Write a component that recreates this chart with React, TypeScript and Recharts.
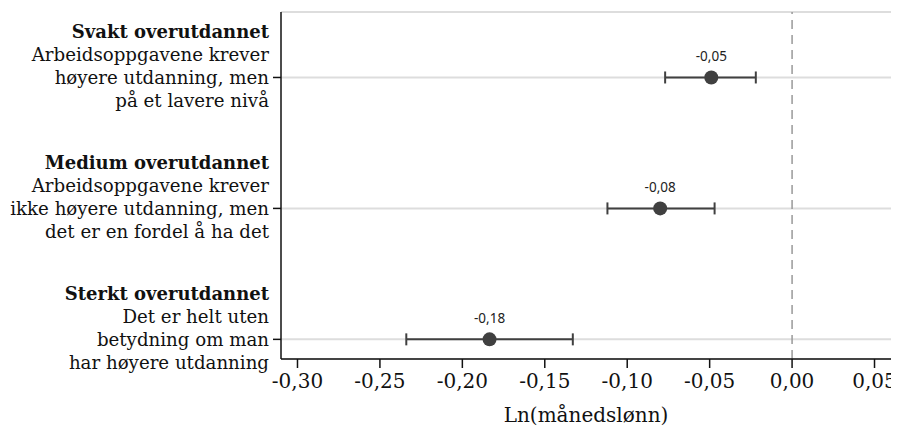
import React from 'react';
import {
  ScatterChart,
  Scatter,
  XAxis,
  YAxis,
  CartesianGrid,
  ErrorBar,
  ReferenceLine,
  Label,
} from 'recharts';

const titles = ['Svakt overutdannet', 'Medium overutdannet', 'Sterkt overutdannet'];
const descriptions = [
  ['Arbeidsoppgavene krever', 'høyere utdanning, men', 'på et lavere nivå'],
  ['Arbeidsoppgavene krever', 'ikke høyere utdanning, men', 'det er en fordel å ha det'],
  ['Det er helt uten', 'betydning om man', 'har høyere utdanning'],
];
const rowPositions = [3, 2, 1];
const estimates = [-0.049, -0.08, -0.1835];
const lowerBounds = [-0.077, -0.112, -0.234];
const upperBounds = [-0.022, -0.047, -0.133];
const xTicks = [-0.3, -0.25, -0.2, -0.15, -0.1, -0.05, 0, 0.05];

const fmt = (v: number) => v.toFixed(2).replace('.', ',');

const data = estimates.map((e, i) => ({
  est: e,
  row: rowPositions[i],
  err: [e - lowerBounds[i], upperBounds[i] - e],
}));

const SERIF = '"DejaVu Serif", serif';

const YTick = (props: any) => {
  const { x, y, payload } = props;
  const idx = rowPositions.indexOf(payload.value);
  if (idx < 0) return null;
  const lh = 23;
  const tx = x - 2;
  return (
    <g>
      <text
        x={tx}
        y={y - 2 * lh}
        textAnchor="end"
        dy="0.35em"
        fontFamily={SERIF}
        fontWeight="bold"
        fontSize={18}
        fill="#111"
      >
        {titles[idx]}
      </text>
      {descriptions[idx].map((line, j) => (
        <text
          key={j}
          x={tx}
          y={y + (j - 1) * lh}
          textAnchor="end"
          dy="0.35em"
          fontFamily={SERIF}
          fontSize={18.2}
          fill="#111"
        >
          {line}
        </text>
      ))}
    </g>
  );
};

const PointShape = (props: any) => {
  const { cx, cy, payload } = props;
  return (
    <g>
      <circle cx={cx} cy={cy} r={7} fill="#404040" />
      <text
        x={cx}
        y={cy - 21}
        textAnchor="middle"
        dy="0.35em"
        fontFamily='"Noto Sans", sans-serif'
        fontSize={13.5}
        fill="#222"
      >
        {fmt(payload.est)}
      </text>
    </g>
  );
};

export default function App() {
  return (
    <div style={{ width: 891, height: 420 }}>
      <ScatterChart
        width={891}
        height={420}
        margin={{ top: 4, right: 8, bottom: 0, left: 0 }}
      >
        <CartesianGrid
          vertical={false}
          stroke="#dddddd"
          strokeWidth={2}
        />
        <XAxis
          type="number"
          dataKey="est"
          domain={[-0.31, 0.06]}
          ticks={xTicks}
          tickFormatter={fmt}
          allowDataOverflow
          height={69}
          tickSize={9}
          tickMargin={6}
          axisLine={{ stroke: '#111', strokeWidth: 1.5 }}
          tickLine={{ stroke: '#111', strokeWidth: 1.5 }}
          tick={{ fontFamily: SERIF, fontSize: 20, fill: '#111' }}
        >
          <Label
            value="Ln(månedslønn)"
            position="insideBottom"
            offset={6}
            style={{ fontFamily: SERIF, fontSize: 20, fill: '#111' }}
          />
        </XAxis>
        <YAxis
          type="number"
          dataKey="row"
          domain={[0.85, 3.5]}
          ticks={rowPositions}
          allowDataOverflow
          width={273}
          tickSize={8}
          tickMargin={2}
          axisLine={{ stroke: '#111', strokeWidth: 1.5 }}
          tickLine={{ stroke: '#111', strokeWidth: 1.5 }}
          tick={<YTick />}
        />
        <ReferenceLine
          x={0}
          stroke="#999"
          strokeWidth={1.5}
          strokeDasharray="9 6"
        />
        <Scatter
          data={data}
          isAnimationActive={false}
          shape={<PointShape />}
        >
          <ErrorBar
            dataKey="err"
            direction="x"
            width={6}
            stroke="#404040"
            strokeWidth={2}
          />
        </Scatter>
      </ScatterChart>
    </div>
  );
}
